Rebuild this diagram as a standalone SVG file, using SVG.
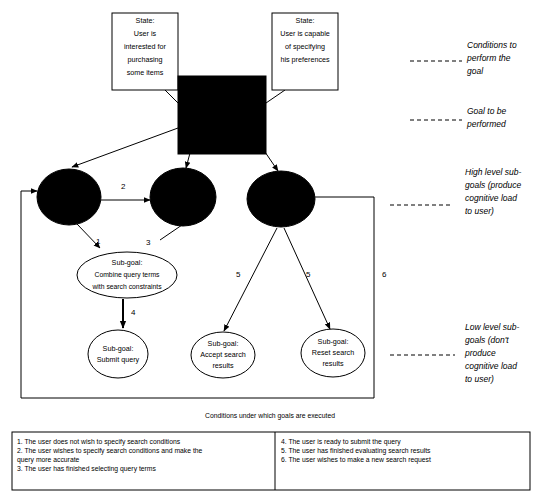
<svg xmlns="http://www.w3.org/2000/svg" width="538" height="491" viewBox="0 0 538 491">
<style>
text{font-family:"Liberation Sans","DejaVu Sans",sans-serif;fill:#000}
.n{font-size:7.2px;text-anchor:middle}
.a{font-size:8.5px;font-style:italic}
.t{font-size:6.8px}
.l{font-size:8px}
.ln{stroke:#000;stroke-width:1;fill:none}
.dash{stroke:#000;stroke-width:1;stroke-dasharray:4,3;fill:none}
.box{fill:#fff;stroke:#000;stroke-width:1}
.blk{fill:#000;stroke:#000}
.wel{fill:#fff;stroke:#000;stroke-width:1}
</style>
<defs>
<marker id="ah" viewBox="0 0 10 10" refX="9" refY="5" markerWidth="7" markerHeight="7" orient="auto-start-reverse"><path d="M0,1 L10,5 L0,9 z" fill="#000"/></marker>
<marker id="ah2" viewBox="0 0 10 10" refX="9" refY="5" markerUnits="userSpaceOnUse" markerWidth="8" markerHeight="8" orient="auto"><path d="M0,1 L10,5 L0,9 z" fill="#000"/></marker>
</defs>
<rect width="538" height="491" fill="#fff"/>

<g id="connectors">
<line class="ln" x1="165" y1="90" x2="178" y2="103"/>
<line class="ln" x1="285" y1="90" x2="266" y2="103"/>
<line class="ln" x1="178" y1="128" x2="72" y2="167" marker-end="url(#ah)"/>
<line class="ln" x1="190" y1="153" x2="186" y2="168" marker-end="url(#ah)"/>
<line class="ln" x1="265" y1="152" x2="278" y2="171" marker-end="url(#ah)"/>
<line class="ln" x1="101" y1="200" x2="150" y2="200" marker-end="url(#ah)"/>
<line class="ln" x1="77" y1="224" x2="100" y2="248" marker-end="url(#ah)"/>
<line class="ln" x1="182" y1="225" x2="160" y2="240"/>
<line x1="123" y1="299" x2="123" y2="328" stroke="#000" stroke-width="2" marker-end="url(#ah2)"/>
<line class="ln" x1="277" y1="228" x2="224" y2="331" marker-end="url(#ah)"/>
<line class="ln" x1="284" y1="228" x2="330" y2="329" marker-end="url(#ah)"/>
<polyline class="ln" points="315,197 374,197 374,398 21,398 21,191 37,191" marker-end="url(#ah)"/>
<line class="dash" x1="410" y1="61" x2="462" y2="61"/>
<line class="dash" x1="410" y1="120" x2="462" y2="120"/>
<line class="dash" x1="390" y1="205" x2="450" y2="205"/>
<line class="dash" x1="390" y1="355" x2="455" y2="355"/>
<text class="l" x="121" y="189">2</text>
<text class="l" x="96" y="244">1</text>
<text class="l" x="146" y="245">3</text>
<text class="l" x="131" y="315">4</text>
<text class="l" x="236" y="277">5</text>
<text class="l" x="306" y="277">5</text>
<text class="l" x="382" y="277">6</text>
</g>

<g id="state1">
<rect class="box" x="112" y="13" width="66" height="77"/>
<text class="n" x="145" y="23">State:</text>
<text class="n" x="145" y="36">User is</text>
<text class="n" x="145" y="49">interested for</text>
<text class="n" x="145" y="62">purchasing</text>
<text class="n" x="145" y="75">some items</text>
</g>
<g id="state2">
<rect class="box" x="272" y="13" width="66" height="77"/>
<text class="n" x="305" y="23">State:</text>
<text class="n" x="305" y="36">User is capable</text>
<text class="n" x="305" y="49">of specifying</text>
<text class="n" x="305" y="62">his preferences</text>
</g>
<g id="goal">
<rect class="blk" x="178" y="76" width="88" height="78"/>
</g>
<g id="sg1"><ellipse class="blk" cx="69" cy="197" rx="32" ry="28"/></g>
<g id="sg2"><ellipse class="blk" cx="183" cy="197" rx="33" ry="29"/></g>
<g id="sg3"><ellipse class="blk" cx="281" cy="199" rx="34" ry="28"/></g>

<g id="combine">
<ellipse class="wel" cx="127" cy="275" rx="50" ry="23"/>
<text class="n" x="127" y="265">Sub-goal:</text>
<text class="n" x="127" y="277" style="font-size:6.8px">Combine query terms</text>
<text class="n" x="127" y="289" style="font-size:6.8px">with search constraints</text>
</g>
<g id="submit">
<ellipse class="wel" cx="118" cy="354" rx="30" ry="24"/>
<text class="n" x="118" y="351">Sub-goal:</text>
<text class="n" x="118" y="362">Submit query</text>
</g>
<g id="accept">
<ellipse class="wel" cx="223" cy="355" rx="32" ry="23"/>
<text class="n" x="223" y="346">Sub-goal:</text>
<text class="n" x="223" y="357">Accept search</text>
<text class="n" x="223" y="368">results</text>
</g>
<g id="reset">
<ellipse class="wel" cx="333" cy="353" rx="32" ry="24"/>
<text class="n" x="333" y="344">Sub-goal:</text>
<text class="n" x="333" y="355">Reset search</text>
<text class="n" x="333" y="366">results</text>
</g>

<g id="annotations">
<text class="a" x="467" y="48">Conditions to</text>
<text class="a" x="467" y="61">perform the</text>
<text class="a" x="467" y="74">goal</text>
<text class="a" x="467" y="114">Goal to be</text>
<text class="a" x="467" y="127">performed</text>
<text class="a" x="465" y="175">High level sub-</text>
<text class="a" x="465" y="188">goals (produce</text>
<text class="a" x="465" y="201">cognitive load</text>
<text class="a" x="465" y="214">to user)</text>
<text class="a" x="465" y="330">Low level sub-</text>
<text class="a" x="465" y="343">goals (don't</text>
<text class="a" x="465" y="356">produce</text>
<text class="a" x="465" y="369">cognitive load</text>
<text class="a" x="465" y="382">to user)</text>
</g>

<g id="table">
<text class="t" x="270" y="418" text-anchor="middle">Conditions under which goals are executed</text>
<rect x="12" y="432" width="518" height="58" fill="none" stroke="#000" stroke-width="1"/>
<line class="ln" x1="275" y1="432" x2="275" y2="490"/>
<text class="t" x="17" y="444">1. The user does not wish to specify search conditions</text>
<text class="t" x="17" y="453">2. The user wishes to specify search conditions and make the</text>
<text class="t" x="17" y="462">query more accurate</text>
<text class="t" x="17" y="471">3. The user has finished selecting query terms</text>
<text class="t" x="281" y="444">4. The user is ready to submit the query</text>
<text class="t" x="281" y="453">5. The user has finished evaluating search results</text>
<text class="t" x="281" y="462">6. The user wishes to make a new search request</text>
</g>
</svg>
